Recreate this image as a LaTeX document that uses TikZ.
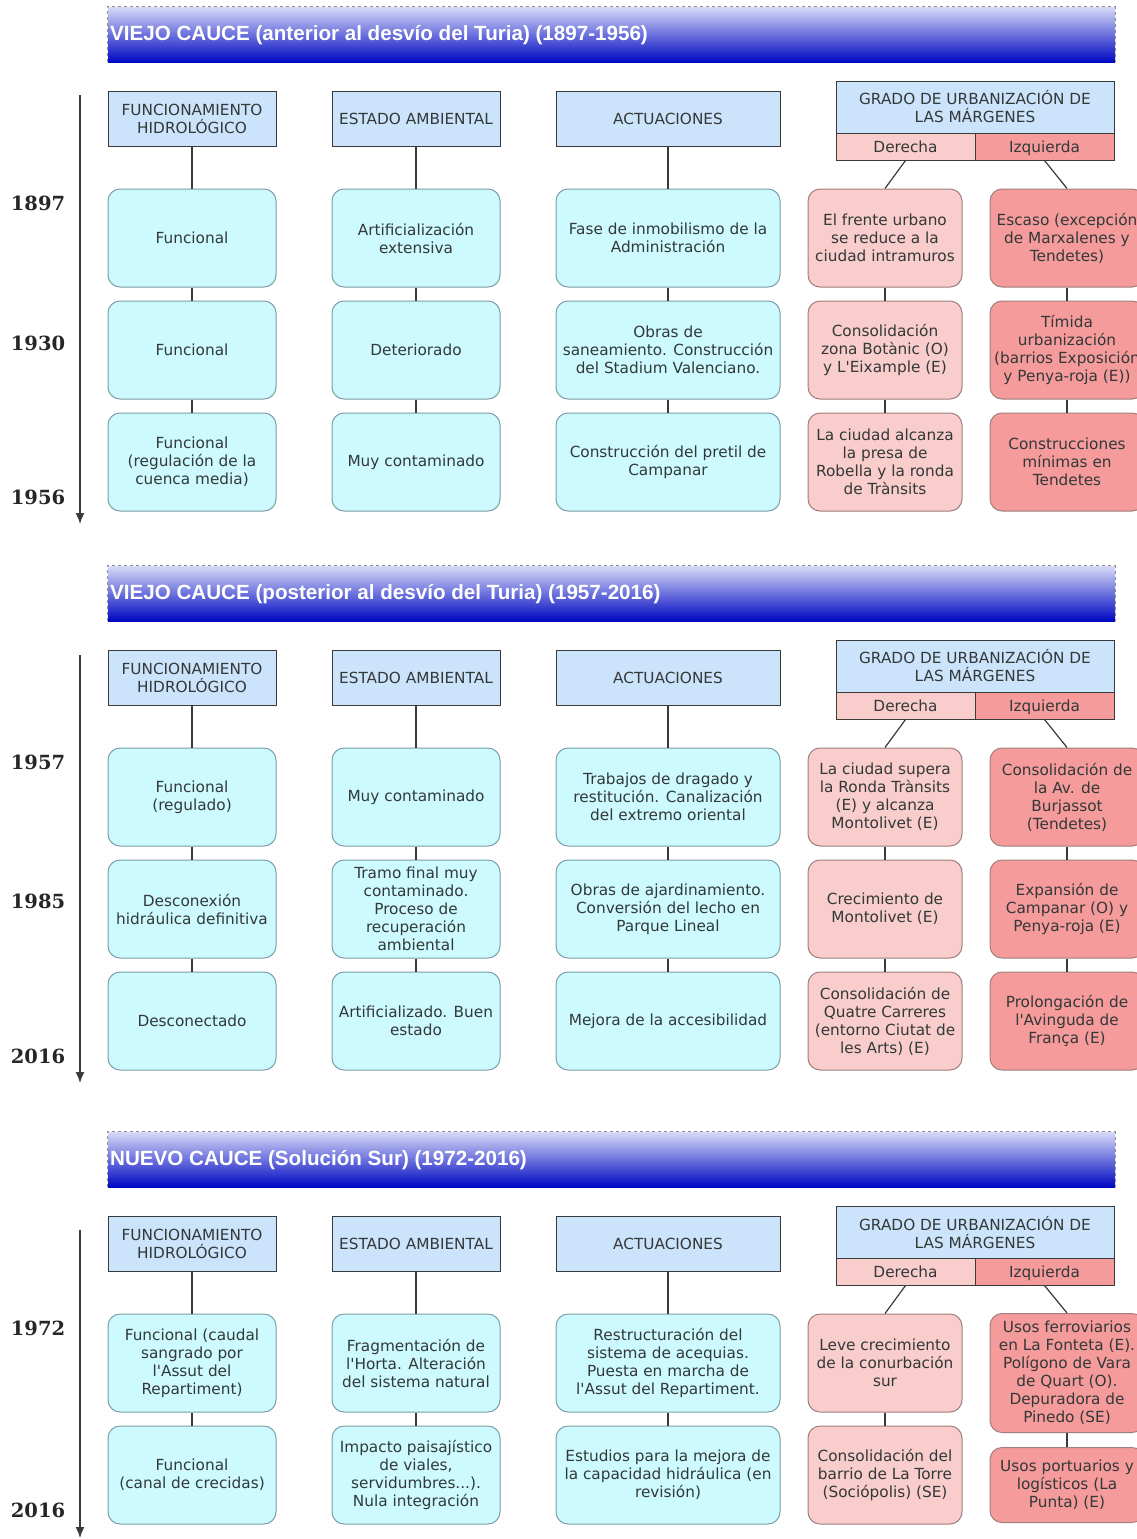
\documentclass[tikz,border=0pt]{standalone}
\usepackage{fontspec}
\setmainfont{DejaVu Sans}[Ligatures=TeXOff]
\newfontfamily\titlefont{Liberation Sans}
\newfontfamily\yrfont{DejaVu Serif}
\usetikzlibrary{arrows.meta}
\definecolor{hdrfill}{HTML}{CCE4FB}
\definecolor{hdrdraw}{HTML}{3A3A3A}
\definecolor{boxfill}{HTML}{CCFAFE}
\definecolor{boxdraw}{HTML}{7C9EA6}
\definecolor{derfill}{HTML}{F8CDCB}
\definecolor{izqfill}{HTML}{F59B9B}
\definecolor{pinkdraw}{HTML}{A07E7E}
\definecolor{txt}{HTML}{333838}
\definecolor{conncol}{HTML}{3A3A3A}
\definecolor{bantop}{HTML}{D6DAF7}
\definecolor{banbot}{HTML}{0008C2}
\newcommand\bxfont{\fontsize{15.3}{18}\selectfont}
\newcommand\heads[2]{%
\node[banner] (#1b) at (611.5,34.5+#2) {};
\draw[bannerline] (#1b.south west) -- (#1b.north west) -- (#1b.north east) -- (#1b.south east);
\node[hdr, minimum width=168pt] (#1h1) at (192,118.5+#2) {FUNCIONAMIENTO\\HIDROLÓGICO};
\node[hdr, minimum width=168pt] (#1h2) at (416,118.5+#2) {ESTADO AMBIENTAL};
\node[hdr, minimum width=224pt] (#1h3) at (668,118.5+#2) {ACTUACIONES};
\node[hdr, minimum width=278pt, minimum height=52pt] (#1g) at (975,107+#2) {GRADO DE URBANIZACIÓN DE\\LAS MÁRGENES};
\node[hdr, fill=derfill, minimum width=139pt, minimum height=27pt, text height=13pt, text depth=1pt] (#1d) at (905.5,146.5+#2) {Derecha};
\node[hdr, fill=izqfill, minimum width=139pt, minimum height=27pt, text height=13pt, text depth=1pt] (#1i) at (1044.5,146.5+#2) {Izquierda};
}
\begin{document}
\begin{tikzpicture}[x=1pt,y=-1pt,
  banner/.style={shade, top color=bantop, bottom color=banbot, minimum width=1007pt, minimum height=55pt, inner sep=0pt},
  bannerline/.style={draw=gray!90, dashed, line width=0.9pt},
  btext/.style={anchor=west, text=white, inner sep=0pt, font=\titlefont\bfseries\fontsize{20.6}{24}\selectfont},
  hdr/.style={draw=hdrdraw, fill=hdrfill, line width=1pt, align=center, inner sep=0pt, minimum height=55pt, text=txt, font=\bxfont},
  cb/.style={draw=boxdraw, fill=boxfill, line width=1pt, rounded corners=12pt, align=center, inner sep=0pt, text=txt, font=\bxfont, minimum height=98pt},
  c1/.style={cb, minimum width=168pt},
  c3/.style={cb, minimum width=224pt},
  c4/.style={cb, draw=pinkdraw, fill=derfill, minimum width=154pt},
  c5/.style={cb, draw=pinkdraw, fill=izqfill, minimum width=154pt},
  conn/.style={draw=conncol, line width=1.2pt},
  tline/.style={draw=conncol, line width=1.6pt, -{Latex[length=11pt,width=9pt]}},
  yr/.style={font=\yrfont\bfseries\fontsize{19.5}{22}\selectfont, text=black!85, inner sep=0pt}
]
\useasboundingbox (0,0) rectangle (1137,1539);
\fill[white] (0,0) rectangle (1137,1539);
\clip (0,0) rectangle (1137,1539);

% ================= SECTION 1 =================
\heads{s1}{0}
\node[btext] (s1bt) at (110,35) {VIEJO CAUCE (anterior al desvío del Turia) (1897-1956)};
\coordinate (s1ta) at (80,95);
\coordinate (s1tb) at (80,524);
\draw[tline] (s1ta) -- (s1tb);
\node[yr] (s1y1) at (38,203) {1897};
\node[yr] (s1y2) at (38,343) {1930};
\node[yr] (s1y3) at (38,497) {1956};

\node[c1] (s1a1) at (192,238) {Funcional};
\node[c1] (s1a2) at (192,350) {Funcional};
\node[c1] (s1a3) at (192,462) {Funcional\\(regulación de la\\cuenca media)};
\node[c1] (s1b1) at (416,238) {Artificialización\\extensiva};
\node[c1] (s1b2) at (416,350) {Deteriorado};
\node[c1] (s1b3) at (416,462) {Muy contaminado};
\node[c3] (s1c1) at (668,238) {Fase de inmobilismo de la\\Administración};
\node[c3] (s1c2) at (668,350) {Obras de\\saneamiento. Construcción\\del Stadium Valenciano.};
\node[c3] (s1c3) at (668,462) {Construcción del pretil de\\Campanar};
\node[c4] (s1d1) at (885,238) {El frente urbano\\se reduce a la\\ciudad intramuros};
\node[c4] (s1d2) at (885,350) {Consolidación\\zona Botànic (O)\\y L'Eixample (E)};
\node[c4] (s1d3) at (885,462) {La ciudad alcanza\\la presa de\\Robella y la ronda\\de Trànsits};
\node[c5] (s1e1) at (1067,238) {Escaso (excepción\\de Marxalenes y\\Tendetes)};
\node[c5] (s1e2) at (1067,350) {Tímida\\urbanización\\(barrios Exposición\\y Penya-roja (E))};
\node[c5] (s1e3) at (1067,462) {Construcciones\\mínimas en\\Tendetes};

\draw[conn] (s1h1) -- (s1a1); \draw[conn] (s1a1) -- (s1a2); \draw[conn] (s1a2) -- (s1a3);
\draw[conn] (s1h2) -- (s1b1); \draw[conn] (s1b1) -- (s1b2); \draw[conn] (s1b2) -- (s1b3);
\draw[conn] (s1h3) -- (s1c1); \draw[conn] (s1c1) -- (s1c2); \draw[conn] (s1c2) -- (s1c3);
\draw[conn] (s1d.south) -- (s1d1.north); \draw[conn] (s1d1) -- (s1d2); \draw[conn] (s1d2) -- (s1d3);
\draw[conn] (s1i.south) -- (s1e1.north); \draw[conn] (s1e1) -- (s1e2); \draw[conn] (s1e2) -- (s1e3);

% ================= SECTION 2 =================
\heads{s2}{559}
\node[btext] (s2bt) at (110,594) {VIEJO CAUCE (posterior al desvío del Turia) (1957-2016)};
\coordinate (s2ta) at (80,655);
\coordinate (s2tb) at (80,1083);
\draw[tline] (s2ta) -- (s2tb);
\node[yr] (s2y1) at (38,762) {1957};
\node[yr] (s2y2) at (38,901) {1985};
\node[yr] (s2y3) at (38,1056) {2016};

\node[c1] (s2a1) at (192,797) {Funcional\\(regulado)};
\node[c1] (s2a2) at (192,909) {Desconexión\\hidráulica definitiva};
\node[c1] (s2a3) at (192,1021) {Desconectado};
\node[c1] (s2b1) at (416,797) {Muy contaminado};
\node[c1] (s2b2) at (416,909) {Tramo final muy\\contaminado.\\Proceso de\\recuperación\\ambiental};
\node[c1] (s2b3) at (416,1021) {Artificializado. Buen\\estado};
\node[c3] (s2c1) at (668,797) {Trabajos de dragado y\\restitución. Canalización\\del extremo oriental};
\node[c3] (s2c2) at (668,909) {Obras de ajardinamiento.\\Conversión del lecho en\\Parque Lineal};
\node[c3] (s2c3) at (668,1021) {Mejora de la accesibilidad};
\node[c4] (s2d1) at (885,797) {La ciudad supera\\la Ronda Trànsits\\(E) y alcanza\\Montolivet (E)};
\node[c4] (s2d2) at (885,909) {Crecimiento de\\Montolivet (E)};
\node[c4] (s2d3) at (885,1021) {Consolidación de\\Quatre Carreres\\(entorno Ciutat de\\les Arts) (E)};
\node[c5] (s2e1) at (1067,797) {Consolidación de\\la Av. de\\Burjassot\\(Tendetes)};
\node[c5] (s2e2) at (1067,909) {Expansión de\\Campanar (O) y\\Penya-roja (E)};
\node[c5] (s2e3) at (1067,1021) {Prolongación de\\l'Avinguda de\\França (E)};

\draw[conn] (s2h1) -- (s2a1); \draw[conn] (s2a1) -- (s2a2); \draw[conn] (s2a2) -- (s2a3);
\draw[conn] (s2h2) -- (s2b1); \draw[conn] (s2b1) -- (s2b2); \draw[conn] (s2b2) -- (s2b3);
\draw[conn] (s2h3) -- (s2c1); \draw[conn] (s2c1) -- (s2c2); \draw[conn] (s2c2) -- (s2c3);
\draw[conn] (s2d.south) -- (s2d1.north); \draw[conn] (s2d1) -- (s2d2); \draw[conn] (s2d2) -- (s2d3);
\draw[conn] (s2i.south) -- (s2e1.north); \draw[conn] (s2e1) -- (s2e2); \draw[conn] (s2e2) -- (s2e3);

% ================= SECTION 3 =================
\heads{s3}{1125}
\node[btext] (s3bt) at (110,1160) {NUEVO CAUCE (Solución Sur) (1972-2016)};
\coordinate (s3ta) at (80,1230);
\coordinate (s3tb) at (80,1538);
\draw[tline] (s3ta) -- (s3tb);
\node[yr] (s3y1) at (38,1328) {1972};
\node[yr] (s3y2) at (38,1510) {2016};

\node[c1] (s3a1) at (192,1363) {Funcional (caudal\\sangrado por\\l'Assut del\\Repartiment)};
\node[c1] (s3a2) at (192,1475) {Funcional\\(canal de crecidas)};
\node[c1] (s3b1) at (416,1363) {Fragmentación de\\l'Horta. Alteración\\del sistema natural};
\node[c1] (s3b2) at (416,1475) {Impacto paisajístico\\de viales,\\servidumbres...).\\Nula integración};
\node[c3] (s3c1) at (668,1363) {Restructuración del\\sistema de acequias.\\Puesta en marcha de\\l'Assut del Repartiment.};
\node[c3] (s3c2) at (668,1475) {Estudios para la mejora de\\la capacidad hidráulica (en\\revisión)};
\node[c4] (s3d1) at (885,1363) {Leve crecimiento\\de la conurbación\\sur};
\node[c4] (s3d2) at (885,1475) {Consolidación del\\barrio de La Torre\\(Sociópolis) (SE)};
\node[c5, minimum height=119pt] (s3e1) at (1067,1373) {Usos ferroviarios\\en La Fonteta (E).\\Polígono de Vara\\de Quart (O).\\Depuradora de\\Pinedo (SE)};
\node[c5, minimum height=75pt] (s3e2) at (1067,1485) {Usos portuarios y\\logísticos (La\\Punta) (E)};

\draw[conn] (s3h1) -- (s3a1); \draw[conn] (s3a1) -- (s3a2);
\draw[conn] (s3h2) -- (s3b1); \draw[conn] (s3b1) -- (s3b2);
\draw[conn] (s3h3) -- (s3c1); \draw[conn] (s3c1) -- (s3c2);
\draw[conn] (s3d.south) -- (s3d1.north); \draw[conn] (s3d1) -- (s3d2);
\draw[conn] (s3i.south) -- (s3e1.north); \draw[conn] (s3e1) -- (s3e2);
\end{tikzpicture}
\end{document}
